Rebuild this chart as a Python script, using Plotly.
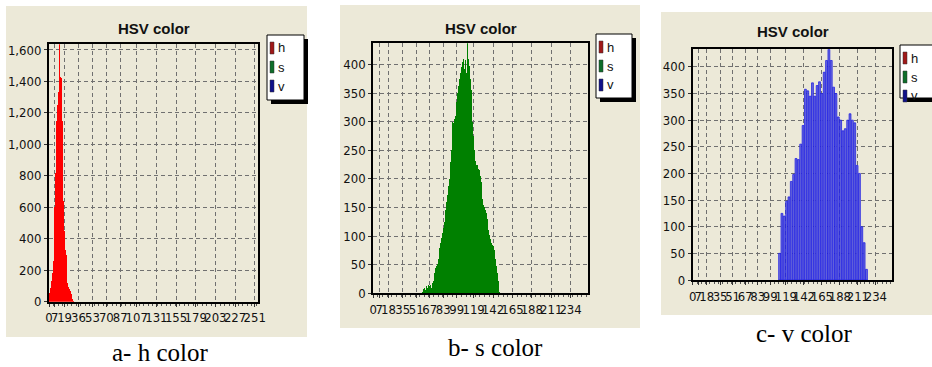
import plotly.graph_objects as go

W, H = 932, 367

# ---------------- data ----------------
h_bins = list(range(0, 31))
h_counts = [40, 55, 90, 130, 180, 260, 360, 600, 820, 1150,
            1250, 1310, 1330, 1700, 1430, 1420, 1150, 850, 640, 450,
            330, 300, 220, 120, 95, 80, 65, 52, 35, 15, 5]

s_bins = list(range(58, 151))
s_counts = [2, 4, 8, 10, 6, 12, 9, 14, 8, 12,
            15, 10, 18, 22, 28, 36, 44, 48, 52, 60,
            70, 80, 88, 96, 105, 115, 125, 135, 146, 160,
            172, 188, 200, 215, 230, 250, 300, 298, 305, 310,
            320, 335, 350, 362, 375, 385, 398, 395, 405, 410,
            392, 408, 400, 385, 440, 410, 398, 375, 355, 330,
            300, 275, 250, 232, 225, 222, 224, 218, 215, 205,
            195, 180, 165, 155, 150, 145, 140, 130, 120, 110,
            102, 95, 88, 85, 88, 82, 75, 60, 47, 35,
            22, 10, 3]

v_bins = list(range(111, 223, 3))
v_counts = [50, 125, 120, 148, 156, 185, 198, 228, 226, 255,
            290, 358, 355, 345, 370, 345, 365, 372, 350, 390,
            412, 433, 412, 362, 350, 306, 300, 280, 284, 300,
            312, 300, 295, 215, 200, 100, 70, 20]

x_ticks_a = [0, 7, 19, 36, 53, 70, 87, 107, 131, 155, 179, 203, 227, 251]
x_ticks_bc = [0, 7, 18, 35, 51, 67, 83, 99, 119, 142, 165, 188, 211, 234]
y_ticks_a = [0, 200, 400, 600, 800, 1000, 1200, 1400, 1600]
y_ticks_bc = [0, 50, 100, 150, 200, 250, 300, 350, 400]

series_names = ["h", "s", "v"]
series_colors = ["#A01818", "#0E6E2A", "#10108A"]
chart_title = "HSV color"
captions = ["a- h color", "b- s color", "c- v color"]

# ---------------- layout helpers ----------------
def fx(px):
    return px / W

def fy(py):
    return 1 - py / H

BEIGE = "#ECE9D8"
TICKFONT = dict(family="Liberation Sans Narrow, Arial Narrow, DejaVu Sans Condensed, sans-serif",
                size=13, color="#111111")

panels = [
    dict(plot=(49, 258, 44.3, 301.7), bg=(6, 307, 6, 337), leg=(267, 304, 35, 100),
         title_y=28, cap=(160, 352), ymax=1636, ytv=y_ticks_a, xtv=x_ticks_a,
         ytf=",d"),
    dict(plot=(373.3, 588.3, 43.3, 293.3), bg=(340, 640, 5, 328), leg=(596, 632, 34, 98),
         title_y=28, cap=(495, 347), ymax=437, ytv=y_ticks_bc, xtv=x_ticks_bc, ytf="d"),
    dict(plot=(692.7, 892.3, 49.3, 280), bg=(661, 932, 12, 315), leg=(900, 940, 45, 98),
         title_y=32, cap=(804, 333), ymax=433, ytv=y_ticks_bc, xtv=x_ticks_bc, ytf="d"),
]

fig = go.Figure()

traces = [
    dict(x=h_bins, y=h_counts, color="#FF0000", line=None, width=1.0),
    dict(x=s_bins, y=s_counts, color="#008000", line=None, width=1.0),
    dict(x=v_bins, y=v_counts, color="#6A6AD8", line="#1414E6", width=2.4),
]

for i, t in enumerate(traces):
    sfx = "" if i == 0 else str(i + 1)
    marker = dict(color=t["color"], line=dict(width=0))
    if t["line"]:
        marker["line"] = dict(width=0.7, color=t["line"])
    fig.add_trace(go.Bar(x=t["x"], y=t["y"], width=t["width"], marker=marker,
                         xaxis="x" + sfx, yaxis="y" + sfx, showlegend=False,
                         name=series_names[i]))

shapes = []
annotations = []
layout_axes = {}

for i, p in enumerate(panels):
    sfx = "" if i == 0 else str(i + 1)
    l, r, t, b = p["plot"]
    layout_axes["xaxis" + sfx] = dict(
        domain=[fx(l), fx(r)], range=[0, 255], anchor="y" + sfx, automargin=False,
        tickmode="array", tickvals=p["xtv"], ticktext=[str(v) for v in p["xtv"]],
        tickangle=0, tickfont=TICKFONT,
        showgrid=True, gridcolor="#707070", griddash="4px,3px", gridwidth=1,
        showline=True, linecolor="#000000", linewidth=2, mirror=True,
        ticks="outside", ticklen=3, tickcolor="#333333",
        minor=dict(tickmode="linear", tick0=0, dtick=5.5, ticks="outside",
                   ticklen=2, tickcolor="#555555", showgrid=False),
        zeroline=False, fixedrange=True,
    )
    layout_axes["yaxis" + sfx] = dict(
        domain=[fy(b), fy(t)], range=[0, p["ymax"]], anchor="x" + sfx, automargin=False,
        tickmode="array", tickvals=p["ytv"], tickformat=p["ytf"],
        tickfont=TICKFONT,
        showgrid=True, gridcolor="#707070", griddash="4px,3px", gridwidth=1,
        showline=True, linecolor="#000000", linewidth=2, mirror=True,
        ticks="outside", ticklen=3, tickcolor="#333333",
        zeroline=False, fixedrange=True,
    )

    bl, br, bt, bb = p["bg"]
    shapes.append(dict(type="rect", xref="paper", yref="paper", layer="below",
                       x0=fx(bl), x1=fx(br), y0=fy(bb), y1=fy(bt),
                       fillcolor=BEIGE, line=dict(width=0)))

    annotations.append(dict(text="<b>" + chart_title + "</b>", xref="paper", yref="paper",
                            x=fx((l + r) / 2), y=fy(p["title_y"]), showarrow=False,
                            xanchor="center", yanchor="middle",
                            font=dict(family="Liberation Sans Narrow, Arial Narrow, Liberation Sans, sans-serif",
                                      size=15, color="#111111")))

    ll, lr, lt, lb = p["leg"]
    shapes.append(dict(type="rect", xref="paper", yref="paper", layer="above",
                       x0=fx(ll + 4), x1=fx(lr + 4), y0=fy(lb + 4), y1=fy(lt + 4),
                       fillcolor="#000000", line=dict(width=0)))
    shapes.append(dict(type="rect", xref="paper", yref="paper", layer="above",
                       x0=fx(ll), x1=fx(lr), y0=fy(lb), y1=fy(lt),
                       fillcolor="#FFFFFF", line=dict(width=1, color="#000000")))
    for k, (nm, col) in enumerate(zip(series_names, series_colors)):
        cy = lt + 13 + k * 19
        shapes.append(dict(type="rect", xref="paper", yref="paper", layer="above",
                           x0=fx(ll + 3), x1=fx(ll + 7), y0=fy(cy + 6), y1=fy(cy - 6),
                           fillcolor=col, line=dict(width=0.5, color="#333333")))
        annotations.append(dict(text=nm, xref="paper", yref="paper",
                                x=fx(ll + 9), y=fy(cy), showarrow=False,
                                xanchor="left", yanchor="middle",
                                font=dict(family="Liberation Sans Narrow, Liberation Sans, sans-serif",
                                          size=13, color="#111111")))

    cx, cy = p["cap"]
    annotations.append(dict(text=captions[i], xref="paper", yref="paper",
                            x=fx(cx), y=fy(cy), showarrow=False,
                            xanchor="center", yanchor="middle",
                            font=dict(family="Liberation Serif, Times New Roman, serif",
                                      size=25, color="#000000")))

fig.update_layout(
    template="none",
    width=W, height=H, margin=dict(l=0, r=0, t=0, b=0, autoexpand=False),
    paper_bgcolor="#FFFFFF", plot_bgcolor=BEIGE,
    bargap=0, barmode="overlay", showlegend=False,
    shapes=shapes, annotations=annotations,
    **layout_axes,
)

fig.write_html("out.html", config={"displayModeBar": False, "staticPlot": True},
               post_script="document.body.style.margin='0px';document.body.style.overflow='hidden';")
